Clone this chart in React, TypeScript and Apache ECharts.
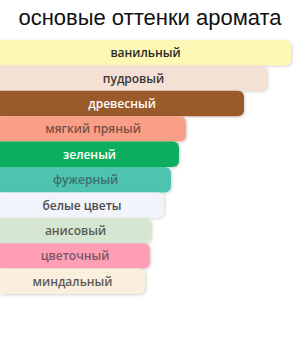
import React, { useEffect, useRef } from "react";
import * as echarts from "echarts";

const categories = ["ванильный", "пудровый", "древесный", "мягкий пряный", "зеленый", "фужерный", "белые цветы", "анисовый", "цветочный", "миндальный"];
const values = [291, 267, 244, 186, 179, 171, 164, 151, 150, 145];
const barColors = ["#FCF8B6", "#F4E0D4", "#9A5A2B", "#FA9F87", "#0BAE5E", "#4EC3B0", "#F1F4FA", "#D6E7D1", "#FF9EB5", "#FAEEDD"];
const labelColors = ["#2A2A22", "#3A3633", "#FFFFFF", "#7A5046", "#FFFFFF", "#3E6E6A", "#4A4A4E", "#585C56", "#7A5866", "#5C5A58"];
const title = "основые оттенки аромата";

export default function App() {
  const ref = useRef<HTMLDivElement>(null);
  useEffect(() => {
    document.body.style.margin = "0";
    const chart = echarts.init(ref.current!, null, { renderer: "svg" });
    chart.setOption({
      animation: false,
      title: {
        text: title,
        left: "center",
        top: 1,
        textStyle: { fontFamily: "Liberation Sans", fontSize: 22, fontWeight: "normal", color: "#111" },
      },
      grid: { left: 0, right: 0, top: 40, bottom: 56 },
      xAxis: { type: "value", min: 0, max: 300, show: false },
      yAxis: { type: "category", data: categories, inverse: true, show: false },
      series: [
        {
          type: "bar",
          barCategoryGap: "0%",
          data: values.map((v, i) => ({
            value: v,
            itemStyle: { color: barColors[i] },
            label: { color: labelColors[i] },
          })),
          itemStyle: {
            borderRadius: [0, 6, 6, 0],
            shadowBlur: 3,
            shadowColor: "rgba(0,0,0,0.18)",
            shadowOffsetY: 1,
            shadowOffsetX: 1,
          },
          label: {
            show: true,
            position: "inside",
            formatter: (p: any) => categories[p.dataIndex],
            fontFamily: "Open Sans",
            fontWeight: 600,
            fontSize: 12,
          },
        },
      ],
    });
    return () => chart.dispose();
  }, []);
  return <div ref={ref} style={{ width: 300, height: 350 }} />;
}
